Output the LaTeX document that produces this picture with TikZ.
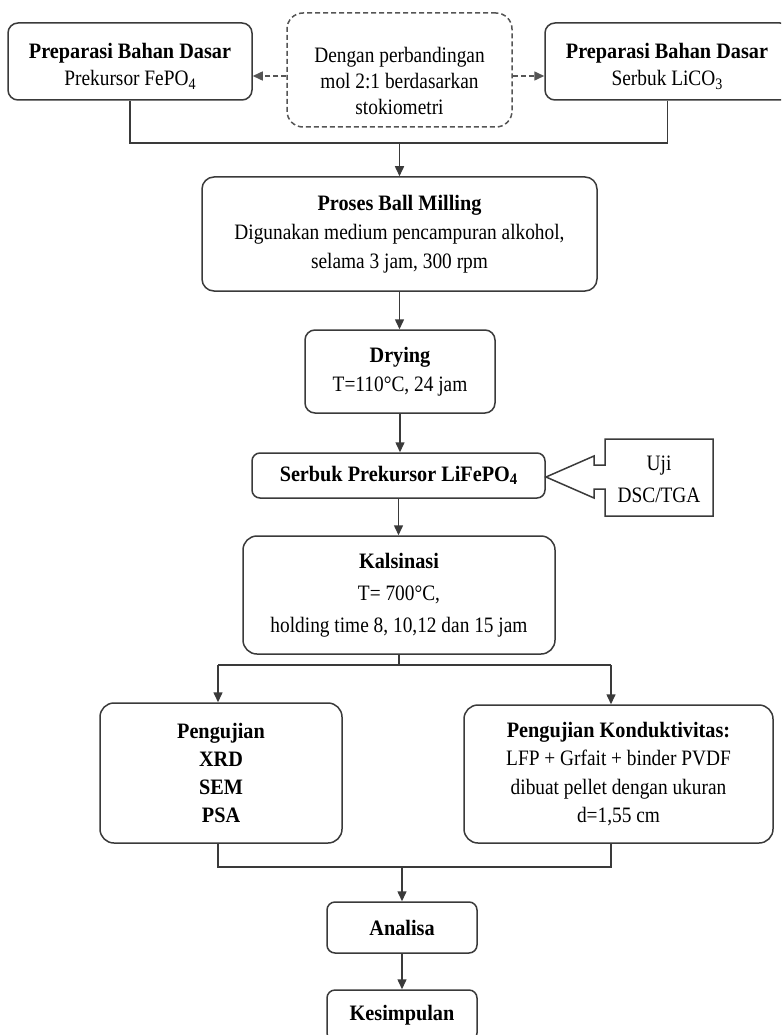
\documentclass[tikz,border=0pt]{standalone}
\usepackage{fontspec}
\setmainfont{Liberation Serif}[FakeStretch=0.88, BoldFeatures={FakeStretch=0.92}]
\usetikzlibrary{arrows.meta}
\definecolor{lc}{HTML}{3A3A3A}
\definecolor{dc}{HTML}{555555}
\newcommand{\sbs}[1]{\raisebox{-0.35ex}{\fontsize{16}{16}\selectfont #1}}
\begin{document}
\begin{tikzpicture}[x=1pt,y=-1pt,
  box/.style={draw=lc, line width=1.5pt, rounded corners=10pt, inner sep=0pt, align=center, font=\fontsize{22}{29}\selectfont},
  txt/.style={inner sep=0pt, align=center, font=\fontsize{22}{27}\selectfont},
  wire/.style={draw=lc, line width=1.5pt},
  arr/.style={draw=lc, line width=1.5pt, -{Triangle[length=10pt,width=9pt]}},
  darr/.style={draw=dc, line width=1.5pt, dash pattern=on 5pt off 3pt, -{Triangle[length=10pt,width=9pt]}},
  dbox/.style={draw=dc, line width=1.5pt, dash pattern=on 5pt off 3pt, rounded corners=16pt, inner sep=0pt}
]
\useasboundingbox (0,0) rectangle (781,1035);
\clip (0,0) rectangle (781,1035);
\fill[white] (0,0) rectangle (781,1035);

% top row
\node[box, minimum width=244pt, minimum height=77pt] (prepL) at (130,61.5) {};
\node[txt] (prepLt) at (130,66.5) {\textbf{Preparasi Bahan Dasar}\\Prekursor FePO\sbs{4}};
\node[box, minimum width=245pt, minimum height=77pt] (prepR) at (667.5,61.5) {};
\node[txt] (prepRt) at (667,66.5) {\textbf{Preparasi Bahan Dasar}\\Serbuk LiCO\sbs{3}};
\node[dbox, minimum width=225pt, minimum height=114pt] (ket) at (399.5,70) {};
\node[txt, font=\fontsize{22}{26}\selectfont] (kett) at (399.5,81) {Dengan perbandingan\\mol 2:1 berdasarkan\\stokiometri};

\path ([yshift=-6pt]ket.west) coordinate (kw);
\path ([yshift=-6pt]ket.east) coordinate (ke);
\draw[darr] (kw) -- (kw -| prepL.east);
\draw[darr] (ke) -- (ke -| prepR.west);

% process column
\node[box, rounded corners=12pt, minimum width=395pt, minimum height=114pt] (ball) at (399.5,234)
  {\textbf{Proses Ball Milling}\\Digunakan medium pencampuran alkohol,\\selama 3 jam, 300 rpm};
\node[box, minimum width=190pt, minimum height=83pt] (dry) at (400,371.5)
  {\textbf{Drying}\\T=110°C, 24 jam};
\node[box, rounded corners=8pt, minimum width=293pt, minimum height=45pt] (serb) at (398.5,475.5)
  {\textbf{Serbuk Prekursor LiFePO\sbs{4}}};
\node[box, rounded corners=14pt, minimum width=312pt, minimum height=118pt, font=\fontsize{22}{32}\selectfont] (kal) at (399,595)
  {\textbf{Kalsinasi}\\T= 700°C,\\holding time 8, 10,12 dan 15 jam};

% callout
\draw[draw=lc, line width=1.5pt] (605,439) -- (713,439) -- (713,516) -- (605,516) -- (605,489) -- (594,489)
  -- (594,498) -- (546,477) -- (594,456) -- (594,465) -- (605,465) -- cycle;
\node[txt, font=\fontsize{22}{29}\selectfont] (uji) at (659,479) {Uji\\[3pt]DSC/TGA};

% tests
\node[box, rounded corners=14pt, minimum width=242pt, minimum height=140pt, font=\fontsize{22}{28}\selectfont] (pengL) at (221,773)
  {\textbf{Pengujian}\\\textbf{XRD}\\\textbf{SEM}\\\textbf{PSA}};
\node[box, rounded corners=14pt, minimum width=309pt, minimum height=138pt, font=\fontsize{22}{28.5}\selectfont] (pengR) at (618.5,774)
  {\textbf{Pengujian Konduktivitas:}\\LFP + Grfait + binder PVDF\\dibuat pellet dengan ukuran\\d=1,55 cm};

\node[box, rounded corners=8pt, minimum width=150pt, minimum height=51pt] (ana) at (402,927.5) {\textbf{Analisa}};
\node[box, rounded corners=8pt, minimum width=150pt, minimum height=51pt] (kes) at (402,1015.5) {\textbf{Kesimpulan}};

% connectors
\coordinate (j1) at (399.5,143);
\draw[wire] (prepL.south) |- (j1);
\draw[wire] (prepR.south) |- (j1);
\draw[arr] (j1) -- (ball.north);
\draw[arr] (ball.south) -- (ball.south |- dry.north);
\draw[arr] (dry.south) -- (dry.south |- serb.north);
\draw[arr] (serb.south) -- (serb.south |- kal.north);

\coordinate (s1) at (399,665);
\coordinate (sL) at (218,665);
\coordinate (sR) at (611,665);
\draw[wire] (kal.south) -- (s1);
\draw[wire] (sL) -- (sR);
\draw[arr] (sL) -- (sL |- pengL.north);
\draw[arr] (sR) -- (sR |- pengR.north);

\coordinate (bL) at (218,867);
\coordinate (bR) at (611,867);
\coordinate (b1) at (402,867);
\draw[wire] (bL |- pengL.south) -- (bL) -- (bR) -- (bR |- pengR.south);
\draw[arr] (b1) -- (ana.north);
\draw[arr] (ana.south) -- (kes.north);
\end{tikzpicture}
\end{document}
